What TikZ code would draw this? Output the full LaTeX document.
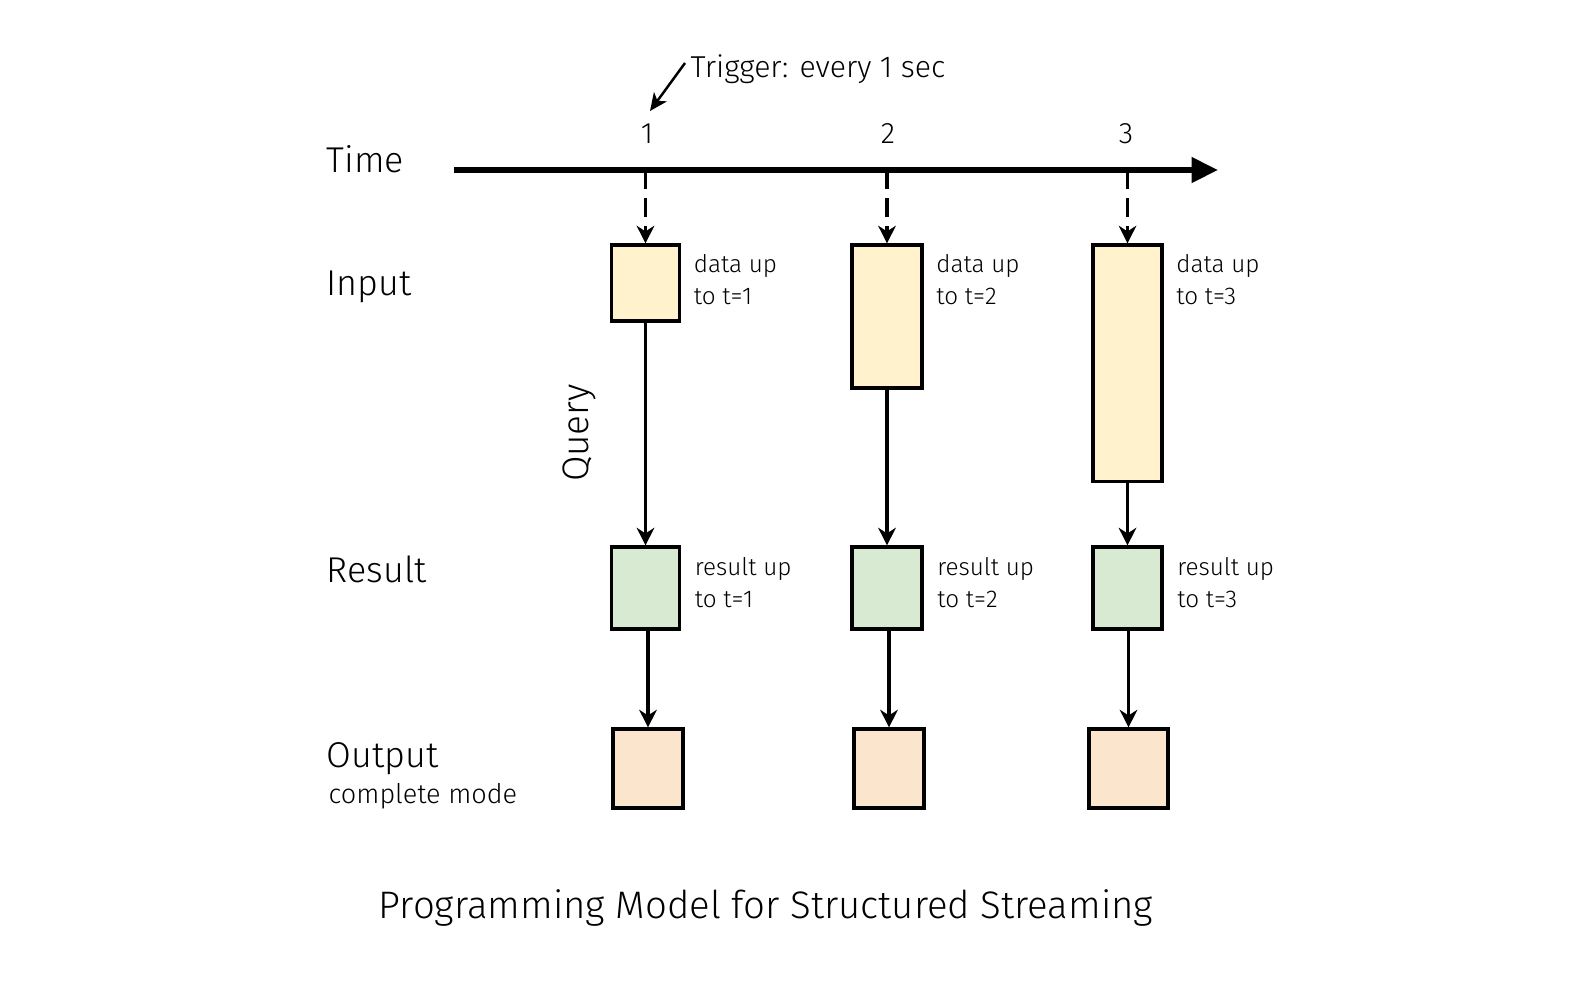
\documentclass[tikz,border=0pt]{standalone}
\usepackage{fontspec}
\setmainfont{Fira Sans Light}
\usepackage{xcolor}
\usetikzlibrary{arrows.meta,positioning}

\definecolor{infill}{HTML}{FFF2CC}
\definecolor{resfill}{HTML}{D9EAD3}
\definecolor{outfill}{HTML}{FCE5CD}

\tikzset{
  box/.style={draw=black, line width=0.9pt, inner sep=0pt},
  inbox/.style={box, fill=infill, minimum width=0.68cm},
  resbox/.style={box, fill=resfill, minimum width=0.68cm, minimum height=0.82cm},
  outbox/.style={box, fill=outfill, minimum height=0.79cm},
  rowlab/.style={anchor=west, inner sep=0pt, font=\fontsize{10.2}{12}\selectfont},
  note/.style={anchor=north west, inner sep=0pt, align=left, font=\fontsize{6.9}{9.2}\selectfont},
  flow/.style={line width=1.1pt, -{Stealth[length=5pt,width=5pt,inset=1.6pt]}},
}

\begin{document}
\begin{tikzpicture}[x=0.01cm, y=-0.01cm]
  \useasboundingbox (0,0) rectangle (1585,981);

  % row labels
  \node[rowlab] (time) at (326,159) {Time};
  \node[rowlab] (input) at (326,287) {Input};
  \node[rowlab] (result) at (326,569) {Result};
  \node[rowlab] (output) at (326,759) {Output};
  \node[rowlab, font=\fontsize{7.7}{9}\selectfont] (mode) at (328,796) {complete mode};
  \node[inner sep=0pt, rotate=90, font=\fontsize{10.5}{12}\selectfont] (query) at (579,433) {Query};

  % time axis
  \coordinate (tl) at (454,170);
  \coordinate (tr) at (1218,170);
  \draw[line width=1.5pt, -{Triangle[length=7.5pt,width=7pt]}] (tl) -- (tr);
  \node[inner sep=0pt, font=\fontsize{8.4}{10}\selectfont] (n1) at (647,134) {1};
  \node[inner sep=0pt, font=\fontsize{8.4}{10}\selectfont] (n2) at (888,134) {2};
  \node[inner sep=0pt, font=\fontsize{8.4}{10}\selectfont] (n3) at (1126,134) {3};

  % trigger
  \node[anchor=west, inner sep=0pt, font=\fontsize{8.6}{10}\selectfont] (trig) at (690,69) {Trigger: every 1 sec};
  \coordinate (trigtip) at (650,111);
  \draw[line width=0.7pt, -{Stealth[length=5pt,width=4.5pt,inset=1.4pt]}] ([xshift=-0.05cm,yshift=0.06cm]trig.west) -- (trigtip);

  % input boxes
  \node[inbox, minimum height=0.76cm] (in1) at (645.5,283) {};
  \node[inbox, minimum height=1.43cm, minimum width=0.70cm] (in2) at (887,316.5) {};
  \node[inbox, minimum height=2.36cm, minimum width=0.69cm] (in3) at (1127.5,363) {};

  % result boxes
  \node[resbox] (res1) at (645.5,588) {};
  \node[resbox, minimum width=0.70cm] (res2) at (887,588) {};
  \node[resbox, minimum width=0.69cm] (res3) at (1127.5,588) {};

  % output boxes
  \node[outbox, minimum width=0.70cm] (out1) at (648,768.5) {};
  \node[outbox, minimum width=0.70cm] (out2) at (889,768.5) {};
  \node[outbox, minimum width=0.79cm] (out3) at (1128.5,768.5) {};

  \foreach \i in {1,2,3}{
    \node[note] (dlab\i) at ([xshift=0.12cm,yshift=-0.10cm]in\i.north east) {data up\\to t=\i};
    \node[note] (rlab\i) at ([xshift=0.13cm,yshift=-0.11cm]res\i.north east) {result up\\to t=\i};
    \draw[flow, dash pattern=on 5.5pt off 2.5pt] (in\i.north |- tl) -- (in\i.north);
    \draw[flow] (in\i) -- (res\i);
    \draw[flow] (out\i.north |- res\i.south) -- (out\i.north);
  }

  % caption
  \node[inner sep=0pt, font=\fontsize{10.9}{13}\selectfont] (title) at (766,908) {Programming Model for Structured Streaming};
\end{tikzpicture}
\end{document}
